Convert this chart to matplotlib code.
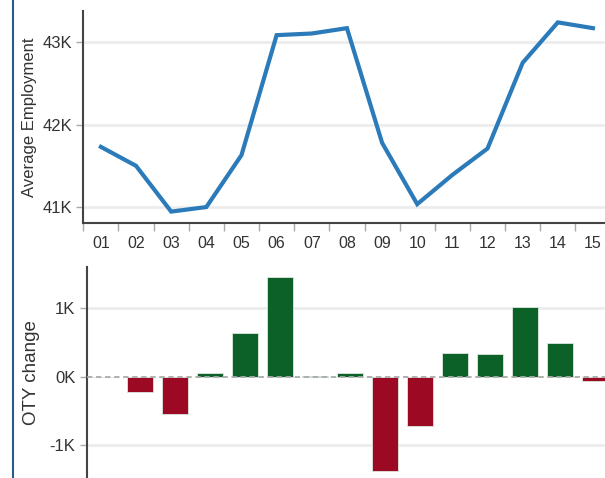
import numpy as np
import matplotlib
matplotlib.use("Agg")
import matplotlib.pyplot as plt
from matplotlib.lines import Line2D
from matplotlib.ticker import FuncFormatter

plt.rcParams['font.family'] = ['Liberation Sans', 'DejaVu Sans']

# data
periods = ["01", "02", "03", "04", "05", "06", "07", "08",
           "09", "10", "11", "12", "13", "14", "15"]
avg_employment = [41730, 41500, 40945, 41000, 41630, 43085, 43105, 43170,
                  41780, 41035, 41390, 41710, 42750, 43240, 43170]
oty_change = [0, -230, -545, 50, 634, 1460, 15, 50,
              -1372, -720, 350, 327, 1017, 488, -63]

W, H = 605, 478
fig = plt.figure(figsize=(W / 100, H / 100), dpi=100)

def px_axes(left, top, right, bottom):
    return fig.add_axes([left / W, 1 - bottom / H, (right - left) / W, (bottom - top) / H])

spine_col = "#444444"
tick_col = "#aaaaaa"
grid_col = "#ececec"
text_col = "#333333"
x = np.arange(len(periods))

# --- top: average employment line ---
ax1 = px_axes(83.3, 11, 83.3 + 15 * 35.15, 223.3)
ax1.plot(x, avg_employment, color="#2b7bba", lw=3.0, solid_joinstyle="miter", zorder=3)
ax1.set_xlim(-0.5, 14.5)
ax1.set_ylim(40803, 43378)
ax1.set_yticks([41000, 42000, 43000])
ax1.yaxis.set_major_formatter(FuncFormatter(lambda v, p: f"{v/1000:.0f}K"))
ax1.set_xticks(x)
ax1.set_xticklabels(periods)
ax1.set_xticks(np.arange(-0.5, 15, 1), minor=True)
ax1.tick_params(axis="x", which="major", length=0, pad=9, labelsize=11.5, labelcolor=text_col)
ax1.tick_params(axis="x", which="minor", length=6, width=1, color=tick_col)
ax1.tick_params(axis="y", length=5, width=1, color=tick_col, pad=3, labelsize=12, labelcolor=text_col)
ax1.grid(axis="y", color=grid_col, lw=2, zorder=0)
ax1.set_ylabel("Average Employment", fontsize=12, color=text_col, labelpad=4)
for s in ["top", "right"]:
    ax1.spines[s].set_visible(False)
for s in ["left", "bottom"]:
    ax1.spines[s].set_color(spine_col)
    ax1.spines[s].set_linewidth(1.5)

# --- bottom: OTY change bars ---
ax2 = px_axes(86.7, 267.3, 86.7 + 15 * 35.0, 478)
colors = ["#0b6128" if v >= 0 else "#9b0a22" for v in oty_change]
ax2.bar(x, oty_change, width=0.76, color=colors, edgecolor="#dde8e0", linewidth=0.6, zorder=3)
ax2.axhline(0, color="#aaaaaa", lw=1.3, ls=(0, (3, 2)), zorder=4)
ax2.set_xlim(-0.523, 14.477)
ax2.set_ylim(-1479, 1597)
ax2.set_yticks([-1000, 0, 1000])
ax2.yaxis.set_major_formatter(FuncFormatter(lambda v, p: f"{v/1000:.0f}K"))
ax2.set_xticks([])
ax2.tick_params(axis="y", length=5, width=1, color=tick_col, pad=3, labelsize=12, labelcolor=text_col)
for g in [-1000, 1000]:
    ax2.axhline(g, color=grid_col, lw=2, zorder=0)
ax2.set_ylabel("OTY change", fontsize=13.5, color=text_col, labelpad=7)
for s in ["top", "right", "bottom"]:
    ax2.spines[s].set_visible(False)
ax2.spines["left"].set_color(spine_col)
ax2.spines["left"].set_linewidth(1.5)

# left border of the panel
fig.add_artist(Line2D([12.5 / W, 12.5 / W], [0, 1], transform=fig.transFigure,
                      color="#2a5a8a", lw=1.5))

fig.savefig("out.png", dpi=100)
